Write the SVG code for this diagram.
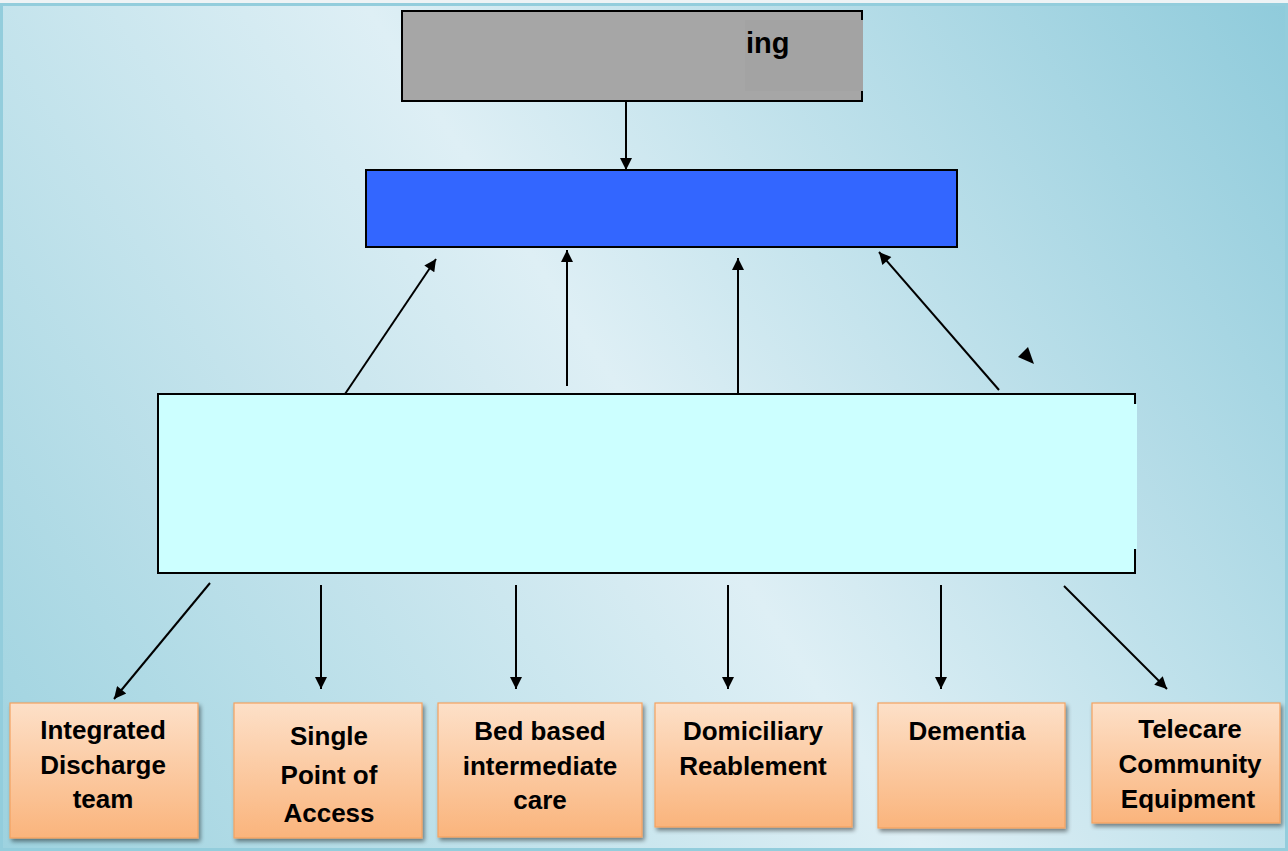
<svg xmlns="http://www.w3.org/2000/svg" width="1288" height="851" viewBox="0 0 1288 851">
<defs>
<linearGradient id="bg" gradientUnits="userSpaceOnUse" x1="0" y1="851" x2="1288" y2="0">
<stop offset="0" stop-color="#9dd2df"/>
<stop offset="0.5" stop-color="#deeff5"/>
<stop offset="1" stop-color="#8fcbdb"/>
</linearGradient>
<linearGradient id="org" x1="0" y1="0" x2="0" y2="1">
<stop offset="0" stop-color="#fde0c8"/>
<stop offset="1" stop-color="#fab47c"/>
</linearGradient>
<filter id="sh" x="-10%" y="-10%" width="130%" height="130%">
<feGaussianBlur in="SourceAlpha" stdDeviation="2"/>
<feOffset dx="2" dy="3" result="b"/>
<feComponentTransfer><feFuncA type="linear" slope="0.45"/></feComponentTransfer>
<feMerge><feMergeNode/><feMergeNode in="SourceGraphic"/></feMerge>
</filter>
<marker id="ah" viewBox="0 0 10 10" refX="10" refY="5" markerWidth="14" markerHeight="12" markerUnits="userSpaceOnUse" orient="auto">
<path d="M0,0 L10,5 L0,10 z" fill="#000"/>
</marker>
<clipPath id="c6"><rect x="1092" y="703" width="188" height="109"/></clipPath>
<style>
.ln{stroke:#000;stroke-width:2;fill:none;marker-end:url(#ah)}
.box{fill:url(#org);stroke:#f4a261;stroke-width:1.2;filter:url(#sh)}
.t{font-family:"Liberation Sans",Arial,sans-serif;font-weight:bold;font-size:26px;fill:#000;text-anchor:middle}
</style>
</defs>
<rect x="0" y="0" width="1288" height="851" fill="#eef3f5"/>
<rect x="1.5" y="4.5" width="1285" height="845" fill="url(#bg)" stroke="#93cddc" stroke-width="3"/>

<g id="top">
<rect x="402" y="11" width="460" height="90" fill="#a6a6a6" stroke="#000" stroke-width="2"/>
<rect x="745" y="20" width="118" height="71" fill="#a3a3a3"/>
<text x="746" y="53" font-family="Liberation Sans, Arial, sans-serif" font-weight="bold" font-size="29" fill="#000">ing</text>
</g>
<g id="blue">
<rect x="366" y="170" width="591" height="77" fill="#3366ff" stroke="#000" stroke-width="2"/>
</g>
<g id="cyan">
<rect x="158" y="394" width="977" height="179" fill="#ccffff" stroke="#000" stroke-width="2"/>
<rect x="1134" y="404" width="3" height="145" fill="#ccffff"/>
</g>

<g id="connectors">
<line class="ln" x1="626" y1="101" x2="626" y2="170"/>
<line class="ln" x1="345" y1="394" x2="436" y2="259"/>
<line class="ln" x1="567" y1="386" x2="567" y2="250"/>
<line class="ln" x1="738" y1="394" x2="738" y2="258"/>
<line class="ln" x1="999" y1="390" x2="879" y2="252"/>
<path d="M1018,357 L1028,347 L1034,364 z" fill="#000"/>
<line class="ln" x1="210" y1="583" x2="114" y2="699"/>
<line class="ln" x1="321" y1="585" x2="321" y2="689"/>
<line class="ln" x1="516" y1="585" x2="516" y2="689"/>
<line class="ln" x1="728" y1="585" x2="728" y2="689"/>
<line class="ln" x1="941" y1="585" x2="941" y2="689"/>
<line class="ln" x1="1064" y1="586" x2="1167" y2="689"/>
</g>

<g id="b1">
<rect class="box" x="10" y="703" width="188" height="135"/>
<text class="t" x="103" y="739">Integrated</text>
<text class="t" x="103" y="774">Discharge</text>
<text class="t" x="103" y="808">team</text>
</g>
<g id="b2">
<rect class="box" x="234" y="703" width="188" height="135"/>
<text class="t" x="329" y="745">Single</text>
<text class="t" x="329" y="784">Point of</text>
<text class="t" x="329" y="822">Access</text>
</g>
<g id="b3">
<rect class="box" x="438" y="703" width="204" height="134"/>
<text class="t" x="540" y="740">Bed based</text>
<text class="t" x="540" y="775">intermediate</text>
<text class="t" x="540" y="809">care</text>
</g>
<g id="b4">
<rect class="box" x="655" y="703" width="197" height="124"/>
<text class="t" x="753" y="740">Domiciliary</text>
<text class="t" x="753" y="775">Reablement</text>
</g>
<g id="b5">
<rect class="box" x="878" y="703" width="187" height="125"/>
<text class="t" x="967" y="740">Dementia</text>
</g>
<g id="b6">
<rect class="box" x="1092" y="703" width="188" height="120"/>
<text class="t" x="1190" y="738">Telecare</text>
<text class="t" x="1190" y="773">Community</text>
<text class="t" x="1188" y="808" clip-path="url(#c6)">Equipment</text>
</g>
</svg>
